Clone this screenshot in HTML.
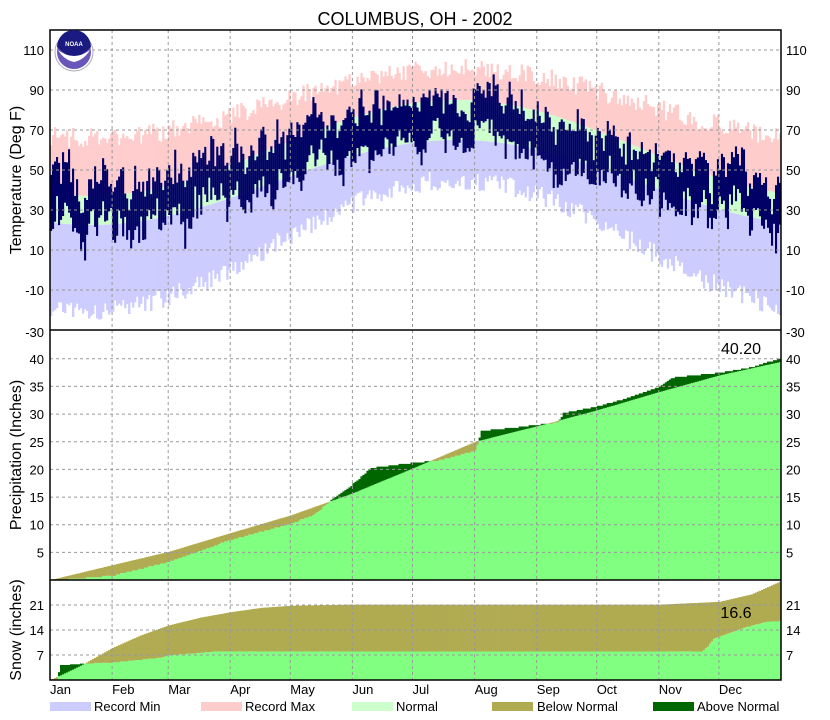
<!DOCTYPE html>
<html><head><meta charset="utf-8">
<style>
html,body{margin:0;padding:0;background:#fff;}
svg{display:block;font-family:"Liberation Sans",sans-serif;}
</style></head>
<body>
<svg id="c" width="830" height="720" viewBox="0 0 830 720" xmlns="http://www.w3.org/2000/svg">
<rect width="830" height="720" fill="#fff"/>
<g id="data"></g>
<g id="grid" stroke="#999" stroke-dasharray="3,3" stroke-width="1" fill="none"></g>
<g id="frame" fill="none" stroke="#000" stroke-width="1.5">
<rect x="50" y="30" width="731" height="650"/>
<line x1="50" y1="330" x2="781" y2="330"/>
<line x1="50" y1="580" x2="781" y2="580"/>
</g>
<text x="415" y="25" font-size="18" text-anchor="middle">COLUMBUS, OH - 2002</text>
<g font-size="13" id="labels"></g>
<text transform="translate(21,180) rotate(-90)" font-size="16" text-anchor="middle">Temperature (Deg F)</text>
<text transform="translate(21,455) rotate(-90)" font-size="16" text-anchor="middle">Precipitation (Inches)</text>
<text transform="translate(21,630) rotate(-90)" font-size="16" text-anchor="middle">Snow (inches)</text>
<text x="741" y="354" font-size="16" text-anchor="middle">40.20</text>
<text x="736" y="618" font-size="16" text-anchor="middle">16.6</text>
<g>
<circle cx="74" cy="52" r="19" fill="#fff" stroke="#aab" stroke-width="1"/>
<circle cx="74" cy="52" r="17" fill="#6a55b8"/>
<path d="M57,47 A17,17 0 0 1 91,47 Q82,56 74,58 Q66,56 57,47Z" fill="#1a1a80"/>
<path d="M58,50 Q74,62 90,50 Q84,60 74,62 Q64,60 58,50Z" fill="#fff"/>
<text x="74" y="46" font-size="6" fill="#fff" text-anchor="middle" font-weight="bold">NOAA</text>
</g>
<g font-size="13">
<rect x="50" y="702" width="41" height="9" fill="#ccccff"/><text x="94" y="711">Record Min</text>
<rect x="201" y="702" width="41" height="9" fill="#ffcccc"/><text x="245" y="711">Record Max</text>
<rect x="352" y="702" width="41" height="9" fill="#ccffcc"/><text x="396" y="711">Normal</text>
<rect x="492" y="702" width="41" height="9" fill="#b0aa50"/><text x="537" y="711">Below Normal</text>
<rect x="653" y="702" width="41" height="9" fill="#006600"/><text x="697" y="711">Above Normal</text>
</g>
</svg>
<script>
(function(){
var X0=50,W=731,N=365,dw=W/N;
var seed=4242;function rnd(){seed=(seed*16807)%2147483647;return seed/2147483647;}
function ty(t){return 330-(t+30)*2;}
function py(v){return 580-v*5.53;}
function sy(v){return 680-v*3.57;}
function interp(pts,d){for(var i=1;i<pts.length;i++){if(d<=pts[i][0]){var a=pts[i-1],b=pts[i];return a[1]+(b[1]-a[1])*(d-a[0])/(b[0]-a[0]);}}return pts[pts.length-1][1];}
function R(x,y1,y2,w,f){return '<rect x="'+x.toFixed(2)+'" y="'+y1.toFixed(1)+'" width="'+w.toFixed(2)+'" height="'+Math.max(0,y2-y1).toFixed(1)+'" fill="'+f+'"/>';}
var rmin="",rmax="",nb="",act="";
var anom=0;
var bias=[[0,6],[60,3],[120,0],[200,3],[280,-2],[340,-2],[364,2]];
for(var d=0;d<N;d++){
 var x=X0+d*dw,c=Math.cos(2*Math.PI*(d-20)/365);
 var nl=43.75-21.25*c,nh=61-24*c;
 var rx=83.5-17.5*c+(rnd()-0.5)*10;
 var rn=17.5-32.5*c-rnd()*10;
 rmax+=R(x,ty(rx),ty(nh),dw+0.3,"#ffcccc");
 nb+=R(x,ty(nh),ty(nl),dw+0.3,"#ccffcc");
 rmin+=R(x,ty(nl),ty(rn),dw+0.3,"#ccccff");
 var sc=1.0-0.45*(1-c)/2;
 anom=anom*0.7+(rnd()-0.5)*18*sc;
 var mid=(nh+nl)/2+anom+interp(bias,d);
 var half=5+rnd()*10;
 var hi=mid+half+(rnd()-0.3)*5, lo=mid-half-(rnd()-0.3)*5;
 if(hi>rx)hi=rx-1;
 if(lo<rn)lo=rn+1;
 act+=R(x,ty(hi),ty(lo),dw+0.1,"#000066");
}
var pn=[[0,0],[31,2.7],[59,5.1],[90,8.5],[120,11.7],[151,15.7],[181,20.2],[212,25.0],[243,27.8],[273,30.7],[304,34],[334,37],[364,39.4]];
var pa=[[0,0],[31,0.9],[59,3.4],[90,7.4],[120,10.3],[132,12.0],[140,14.5],[151,17.5],[160,20.4],[181,21.3],[195,21.8],[212,23.5],[215,27.1],[230,27.6],[243,28.2],[253,28.6],[256,30.3],[273,31.5],[285,32.7],[304,35],[310,36.7],[334,37.6],[350,38.6],[364,40.2]];
var sn=[[0,0],[5,1.3],[15,4],[31,9],[45,12.5],[59,15.3],[75,17.5],[90,19],[105,20.2],[120,20.8],[150,21.1],[304,21.1],[334,21.9],[350,24],[364,27.5]];
var sa=[[0,0],[3,0.3],[5,4.2],[17,4.7],[31,5.0],[56,6.4],[59,7.0],[83,8.1],[325,8.1],[328,9.5],[331,11.7],[339,13.3],[348,15],[357,16.4],[364,16.6]];
var pr="",sw="";
function stepv(pts,d,q){var v=interp(pts,d);return Math.floor(v/q)*q;}
for(var d=0;d<N;d++){
 var x=X0+d*dw;
 var n=interp(pn,d),a=stepv(pa,d,0.25);
 var lo=Math.min(n,a),hi=Math.max(n,a);
 pr+=R(x,py(lo),580,dw+0.3,"#80ff80");
 pr+=R(x,py(hi),py(lo),dw+0.3,a>n?'#006600':'#b0aa50');
 var n2=interp(sn,d),a2=stepv(sa,d,0.2);
 var lo2=Math.min(n2,a2),hi2=Math.max(n2,a2);
 sw+=R(x,sy(lo2),680,dw+0.3,"#80ff80");
 sw+=R(x,sy(hi2),sy(lo2),dw+0.3,a2>n2?'#006600':'#b0aa50');
}
document.getElementById('data').innerHTML=rmax+nb+rmin+act+pr+sw;
var months=[0,31,59,90,120,151,181,212,243,273,304,334];
var names=["Jan","Feb","Mar","Apr","May","Jun","Jul","Aug","Sep","Oct","Nov","Dec"];
var g="",l="";
for(var i=0;i<12;i++){var x=X0+months[i]*dw;if(i>0)g+='<line x1="'+x.toFixed(1)+'" y1="30" x2="'+x.toFixed(1)+'" y2="680"/>';
 l+='<text x="'+x.toFixed(1)+'" y="694">'+names[i]+'</text>';}
for(var t=-10;t<=110;t+=20){var y=ty(t);g+='<line x1="50" y1="'+y+'" x2="781" y2="'+y+'"/>';}
for(var t=-30;t<=110;t+=20){var y=ty(t);if(t==-30)y=332;l+='<text x="44" y="'+(y+5)+'" text-anchor="end">'+t+'</text><text x="786" y="'+(y+5)+'">'+t+'</text>';}
for(var v=5;v<=40;v+=5){var y=py(v);g+='<line x1="50" y1="'+y.toFixed(1)+'" x2="781" y2="'+y.toFixed(1)+'"/>';l+='<text x="44" y="'+(y+5).toFixed(1)+'" text-anchor="end">'+v+'</text><text x="786" y="'+(y+5).toFixed(1)+'">'+v+'</text>';}
for(var v=7;v<=21;v+=7){var y=sy(v);g+='<line x1="50" y1="'+y.toFixed(1)+'" x2="781" y2="'+y.toFixed(1)+'"/>';l+='<text x="44" y="'+(y+5).toFixed(1)+'" text-anchor="end">'+v+'</text><text x="786" y="'+(y+5).toFixed(1)+'">'+v+'</text>';}
document.getElementById('grid').innerHTML=g;document.getElementById('labels').innerHTML=l;
})();
</script>
</body></html>
